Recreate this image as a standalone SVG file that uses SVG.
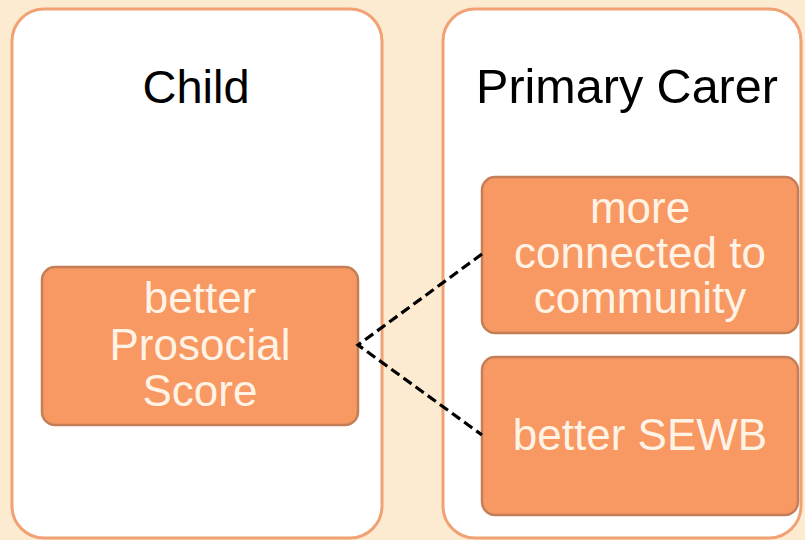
<svg xmlns="http://www.w3.org/2000/svg" width="805" height="540" viewBox="0 0 805 540">
<style>
.panel{fill:#ffffff;stroke:#f0a274;stroke-width:3}
.box{fill:#f89862;stroke:#c47e58;stroke-width:2.5}
.title{font-family:"Liberation Sans",Arial,sans-serif;font-size:47px;fill:#000;text-anchor:middle}
.lbl{font-family:"Liberation Sans",Arial,sans-serif;font-size:44px;fill:#fff3e6;text-anchor:middle}
.conn{fill:none;stroke:#000;stroke-width:3.2;stroke-dasharray:10 5}
</style>
<rect x="0" y="0" width="805" height="540" fill="#fdebd1"/>
<g id="panel-child">
<rect class="panel" x="12" y="9" width="370" height="529" rx="32"/>
<text class="title" x="196" y="103">Child</text>
</g>
<g id="panel-carer">
<rect class="panel" x="443" y="9" width="358" height="529" rx="32"/>
<text class="title" x="627" y="103" style="font-size:48.5px">Primary Carer</text>
</g>
<g id="node-prosocial">
<rect class="box" x="42" y="267" width="316" height="158" rx="13"/>
<text class="lbl" x="200" y="313">better</text>
<text class="lbl" x="200" y="360">Prosocial</text>
<text class="lbl" x="200" y="406">Score</text>
</g>
<g id="node-community">
<rect class="box" x="482" y="177" width="316" height="156" rx="13"/>
<text class="lbl" x="640" y="223">more</text>
<text class="lbl" x="640" y="268">connected to</text>
<text class="lbl" x="640" y="313">community</text>
</g>
<g id="node-sewb">
<rect class="box" x="482" y="357" width="316" height="158" rx="13"/>
<text class="lbl" x="640" y="450">better SEWB</text>
</g>
<g id="connectors">
<path class="conn" d="M482 254 L358 345 L482 435"/>
</g>
</svg>
